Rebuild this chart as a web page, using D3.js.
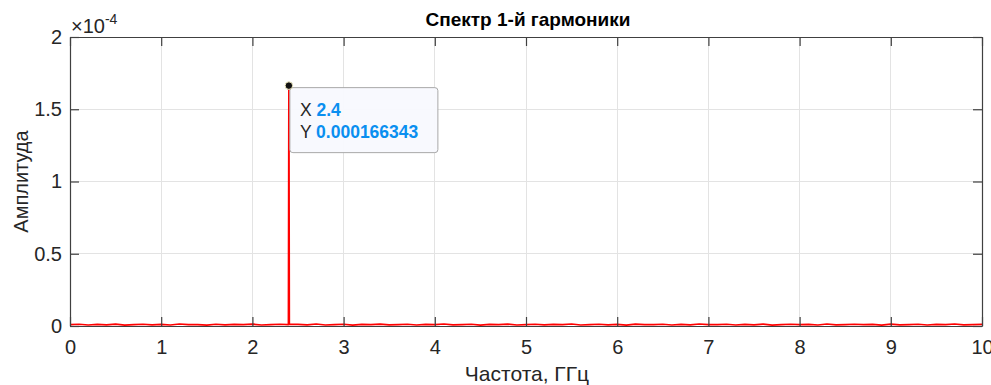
<!DOCTYPE html>
<html>
<head>
<meta charset="utf-8">
<script src="https://cdn.jsdelivr.net/npm/d3@7/dist/d3.min.js"></script>
<style>
  html, body { margin: 0; padding: 0; background: #fff; }
  svg { display: block; font-family: "Liberation Sans", Arial, Helvetica, sans-serif; }
</style>
</head>
<body>
<svg id="chart" width="991" height="385"></svg>
<script>
// Spectrum of the 1st harmonic
const title = "Спектр 1-й гармоники";
const xLabel = "Частота, ГГц";
const yLabel = "Амплитуда";

const xTicks = [0, 1, 2, 3, 4, 5, 6, 7, 8, 9, 10];
const yTicks = [0, 0.5e-4, 1e-4, 1.5e-4, 2e-4];
const yExponent = -4;

// Peak (data tip)
const peakFreq = 2.4;
const peakAmp = 0.000166343;

// Noise floor, sampled every 0.1 GHz from 0 to 10 GHz (units of 1e-6)
const floorStep = 0.1;
const floorAmp = [
  0.9, 1.2, 0.7, 1.1, 0.8, 1.3, 0.6, 1.0, 1.2, 0.8,
  1.1, 0.7, 1.4, 0.9, 1.0, 0.6, 1.2, 0.8, 1.1, 0.9,
  1.3, 0.7, 1.0, 1.2, 0.9, 1.1, 0.8, 1.4, 0.7, 1.0,
  1.2, 0.6, 1.1, 0.9, 1.3, 0.8, 1.0, 1.2, 0.7, 1.1,
  0.9, 1.4, 0.8, 1.0, 1.2, 0.6, 1.1, 0.9, 1.3, 0.7,
  1.0, 1.2, 0.8, 1.1, 0.9, 1.4, 0.7, 1.0, 1.2, 0.8,
  1.1, 0.6, 1.3, 0.9, 1.0, 1.2, 0.7, 1.1, 0.8, 1.4,
  0.9, 1.0, 1.2, 0.7, 1.1, 0.8, 1.3, 0.6, 1.0, 1.2,
  0.9, 1.1, 0.7, 1.4, 0.8, 1.0, 1.2, 0.9, 1.1, 0.6,
  1.3, 0.8, 1.0, 1.2, 0.7, 1.1, 0.9, 1.4, 0.8, 1.0,
  1.1
];
const binWidth = 0.005;

// Assemble the spectrum line: noise floor with the single-bin peak
const spectrum = [];
floorAmp.forEach((a, i) => {
  const f = +(i * floorStep).toFixed(3);
  if (Math.abs(f - peakFreq) < 1e-9) {
    spectrum.push([peakFreq - binWidth, a * 1e-6]);
    spectrum.push([peakFreq, peakAmp]);
    spectrum.push([peakFreq + binWidth, floorAmp[i + 1] * 1e-6]);
  } else {
    spectrum.push([f, a * 1e-6]);
  }
});

const svg = d3.select("#chart");
const margin = { left: 70, right: 9, top: 37, bottom: 59 };
const W = 991, H = 385;
const x0 = margin.left, x1 = W - margin.right;
const y0 = H - margin.bottom, y1 = margin.top;

const x = d3.scaleLinear().domain([0, 10]).range([x0, x1]);
const y = d3.scaleLinear().domain([0, 2e-4]).range([y0, y1]);

const axisColor = "#404040";
const gridColor = "#e3e3e3";
const fontSize = 20;
const tickLen = 9;

// Grid
const grid = svg.append("g");
grid.selectAll(".gx").data(xTicks.slice(1, -1)).join("line")
  .attr("x1", d => x(d)).attr("x2", d => x(d))
  .attr("y1", y0).attr("y2", y1)
  .attr("stroke", gridColor).attr("stroke-width", 1).attr("shape-rendering", "crispEdges");
grid.selectAll(".gy").data(yTicks.slice(1, -1)).join("line")
  .attr("x1", x0).attr("x2", x1)
  .attr("y1", d => y(d)).attr("y2", d => y(d))
  .attr("stroke", gridColor).attr("stroke-width", 1).attr("shape-rendering", "crispEdges");

// Spectrum line
const line = d3.line().x(d => x(d[0])).y(d => y(d[1]));
svg.append("path")
  .datum(spectrum)
  .attr("d", line)
  .attr("fill", "none")
  .attr("stroke", "#ff0000")
  .attr("stroke-width", 1.7)
  .attr("stroke-linejoin", "round");

// Axes (box with inward ticks on all sides)
const fmtY = d => d3.format("~g")(+(d / Math.pow(10, yExponent)).toFixed(6));

const axBottom = svg.append("g").attr("transform", `translate(0,${y0})`)
  .call(d3.axisBottom(x).tickValues(xTicks).tickSizeInner(-tickLen).tickSizeOuter(0).tickPadding(14).tickFormat(d3.format("d")));
const axTop = svg.append("g").attr("transform", `translate(0,${y1})`)
  .call(d3.axisTop(x).tickValues(xTicks).tickSizeInner(-tickLen).tickSizeOuter(0).tickFormat(""));
const axLeft = svg.append("g").attr("transform", `translate(${x0},0)`)
  .call(d3.axisLeft(y).tickValues(yTicks).tickSizeInner(-tickLen).tickSizeOuter(0).tickPadding(8).tickFormat(fmtY));
const axRight = svg.append("g").attr("transform", `translate(${x1},0)`)
  .call(d3.axisRight(y).tickValues(yTicks).tickSizeInner(-tickLen).tickSizeOuter(0).tickFormat(""));

[axBottom, axTop, axLeft, axRight].forEach(g => {
  g.select(".domain").attr("stroke", axisColor).attr("stroke-width", 1.2);
  g.selectAll(".tick line").attr("stroke", axisColor).attr("stroke-width", 1.2);
  g.selectAll(".tick text").attr("fill", "#262626").attr("font-size", fontSize)
    .attr("font-family", "'Liberation Sans', Arial, sans-serif");
});

// Exponent label
const expo = svg.append("text")
  .attr("x", x0 + 1).attr("y", y1 - 4)
  .attr("fill", "#262626").attr("font-size", fontSize);
expo.append("tspan").text("×10");
expo.append("tspan").attr("font-size", 14).attr("dy", -9).text(String(yExponent));

// Title and axis labels
svg.append("text")
  .attr("x", (x0 + x1) / 2 + 2).attr("y", 26)
  .attr("text-anchor", "middle").attr("font-weight", "bold")
  .attr("font-size", 19).attr("fill", "#000").text(title);

svg.append("text")
  .attr("x", (x0 + x1) / 2 + 1).attr("y", 381)
  .attr("text-anchor", "middle").attr("font-size", 21).attr("fill", "#262626").text(xLabel);

svg.append("text")
  .attr("transform", `translate(28,${(y0 + y1) / 2}) rotate(-90)`)
  .attr("text-anchor", "middle").attr("font-size", fontSize).attr("fill", "#262626").text(yLabel);

// Data tip at the peak
const px = x(peakFreq), py = y(peakAmp);
const tip = svg.append("g").attr("transform", `translate(${px + 1},${py + 2})`);
tip.append("rect")
  .attr("x", 0).attr("y", 0).attr("width", 148).attr("height", 65)
  .attr("rx", 3).attr("ry", 3)
  .attr("fill", "#f8f9fe").attr("fill-opacity", 0.95)
  .attr("stroke", "#a8a8a8").attr("stroke-width", 1);
const tipRow = (label, value, dy) => {
  const t = tip.append("text").attr("x", 10).attr("y", dy).attr("font-size", 17.5);
  t.append("tspan").attr("fill", "#262626").text(label + " ");
  t.append("tspan").attr("fill", "#0a8ff0").attr("font-weight", "bold").text(value);
};
tipRow("X", String(peakFreq), 28);
tipRow("Y", String(peakAmp), 50);

svg.append("circle")
  .attr("cx", px).attr("cy", py).attr("r", 3.8)
  .attr("fill", "#111").attr("stroke", "#f5f0c8").attr("stroke-width", 1);
</script>
</body>
</html>
